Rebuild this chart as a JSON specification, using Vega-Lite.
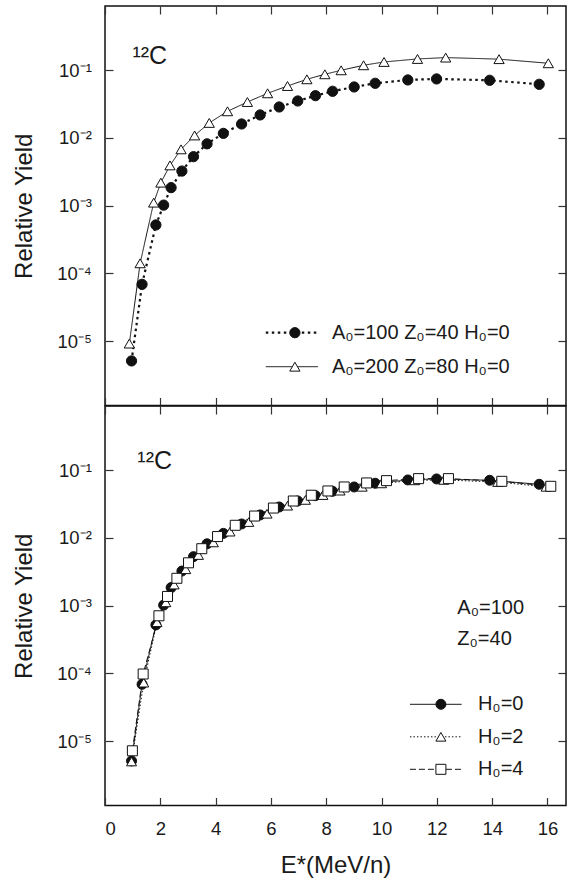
{
  "$schema": "https://vega.github.io/schema/vega-lite/v6.json",
  "padding": {"left": 12, "top": 4, "right": 0, "bottom": 0},
  "spacing": 0,
  "bounds": "flush",
  "resolve": {
    "scale": {"shape": "independent", "fill": "independent", "stroke": "independent", "strokeDash": "independent", "strokeWidth": "independent"},
    "legend": {"shape": "independent", "fill": "independent", "stroke": "independent", "strokeDash": "independent", "strokeWidth": "independent"}
  },
  "config": {
    "font": "Liberation Sans",
    "view": {"stroke": "#111", "strokeWidth": 1.5},
    "axis": {"domain": false, "grid": false, "tickColor": "#333", "tickSize": -8, "tickWidth": 1.2, "labelFont": "Liberation Sans", "labelFontSize": 18.5, "labelColor": "#1a1a1a", "titleFont": "Liberation Sans", "titleFontSize": 24, "titleFontWeight": "normal", "titleColor": "#1a1a1a"},
    "legend": {"labelFont": "Liberation Sans", "labelColor": "#1a1a1a", "padding": 0, "labelLimit": 0}
  },
  "datasets": {
    "top": [
      {"series": "A₀=100 Z₀=40 H₀=0", "E": 0.96, "Y": 5.1e-6},
      {"series": "A₀=100 Z₀=40 H₀=0", "E": 1.34, "Y": 6.9e-5},
      {"series": "A₀=100 Z₀=40 H₀=0", "E": 1.84, "Y": 5.2e-4},
      {"series": "A₀=100 Z₀=40 H₀=0", "E": 2.12, "Y": 1.02e-3},
      {"series": "A₀=100 Z₀=40 H₀=0", "E": 2.39, "Y": 1.85e-3},
      {"series": "A₀=100 Z₀=40 H₀=0", "E": 2.78, "Y": 3.25e-3},
      {"series": "A₀=100 Z₀=40 H₀=0", "E": 3.20, "Y": 5.3e-3},
      {"series": "A₀=100 Z₀=40 H₀=0", "E": 3.69, "Y": 8.2e-3},
      {"series": "A₀=100 Z₀=40 H₀=0", "E": 4.28, "Y": 0.0117},
      {"series": "A₀=100 Z₀=40 H₀=0", "E": 4.94, "Y": 0.0161},
      {"series": "A₀=100 Z₀=40 H₀=0", "E": 5.61, "Y": 0.0219},
      {"series": "A₀=100 Z₀=40 H₀=0", "E": 6.30, "Y": 0.0287},
      {"series": "A₀=100 Z₀=40 H₀=0", "E": 6.97, "Y": 0.0352},
      {"series": "A₀=100 Z₀=40 H₀=0", "E": 7.61, "Y": 0.0422},
      {"series": "A₀=100 Z₀=40 H₀=0", "E": 8.23, "Y": 0.049},
      {"series": "A₀=100 Z₀=40 H₀=0", "E": 9.01, "Y": 0.0567},
      {"series": "A₀=100 Z₀=40 H₀=0", "E": 9.77, "Y": 0.0643},
      {"series": "A₀=100 Z₀=40 H₀=0", "E": 10.95, "Y": 0.072},
      {"series": "A₀=100 Z₀=40 H₀=0", "E": 11.99, "Y": 0.0745},
      {"series": "A₀=100 Z₀=40 H₀=0", "E": 13.91, "Y": 0.0712},
      {"series": "A₀=100 Z₀=40 H₀=0", "E": 15.70, "Y": 0.0621},
      {"series": "A₀=200 Z₀=80  H₀=0", "E": 0.88, "Y": 9.2e-6},
      {"series": "A₀=200 Z₀=80  H₀=0", "E": 1.27, "Y": 1.41e-4},
      {"series": "A₀=200 Z₀=80  H₀=0", "E": 1.76, "Y": 1.11e-3},
      {"series": "A₀=200 Z₀=80  H₀=0", "E": 2.02, "Y": 2.19e-3},
      {"series": "A₀=200 Z₀=80  H₀=0", "E": 2.35, "Y": 3.94e-3},
      {"series": "A₀=200 Z₀=80  H₀=0", "E": 2.75, "Y": 6.8e-3},
      {"series": "A₀=200 Z₀=80  H₀=0", "E": 3.24, "Y": 0.0109},
      {"series": "A₀=200 Z₀=80  H₀=0", "E": 3.77, "Y": 0.0167},
      {"series": "A₀=200 Z₀=80  H₀=0", "E": 4.43, "Y": 0.0248},
      {"series": "A₀=200 Z₀=80  H₀=0", "E": 5.15, "Y": 0.034},
      {"series": "A₀=200 Z₀=80  H₀=0", "E": 5.88, "Y": 0.0457},
      {"series": "A₀=200 Z₀=80  H₀=0", "E": 6.60, "Y": 0.0586},
      {"series": "A₀=200 Z₀=80  H₀=0", "E": 7.30, "Y": 0.0736},
      {"series": "A₀=200 Z₀=80  H₀=0", "E": 7.95, "Y": 0.0873},
      {"series": "A₀=200 Z₀=80  H₀=0", "E": 8.54, "Y": 0.100},
      {"series": "A₀=200 Z₀=80  H₀=0", "E": 9.35, "Y": 0.1186},
      {"series": "A₀=200 Z₀=80  H₀=0", "E": 10.09, "Y": 0.1328},
      {"series": "A₀=200 Z₀=80  H₀=0", "E": 11.30, "Y": 0.147},
      {"series": "A₀=200 Z₀=80  H₀=0", "E": 12.32, "Y": 0.154},
      {"series": "A₀=200 Z₀=80  H₀=0", "E": 14.25, "Y": 0.146},
      {"series": "A₀=200 Z₀=80  H₀=0", "E": 16.03, "Y": 0.127}
    ],
    "bottom": [
      {"series": "H₀=0", "E": 0.96, "Y": 5.1e-6},
      {"series": "H₀=0", "E": 1.34, "Y": 6.9e-5},
      {"series": "H₀=0", "E": 1.84, "Y": 5.2e-4},
      {"series": "H₀=0", "E": 2.12, "Y": 1.02e-3},
      {"series": "H₀=0", "E": 2.39, "Y": 1.85e-3},
      {"series": "H₀=0", "E": 2.78, "Y": 3.25e-3},
      {"series": "H₀=0", "E": 3.20, "Y": 5.3e-3},
      {"series": "H₀=0", "E": 3.69, "Y": 8.2e-3},
      {"series": "H₀=0", "E": 4.28, "Y": 0.0117},
      {"series": "H₀=0", "E": 4.94, "Y": 0.0161},
      {"series": "H₀=0", "E": 5.61, "Y": 0.0219},
      {"series": "H₀=0", "E": 6.30, "Y": 0.0287},
      {"series": "H₀=0", "E": 6.97, "Y": 0.0352},
      {"series": "H₀=0", "E": 7.61, "Y": 0.0422},
      {"series": "H₀=0", "E": 8.23, "Y": 0.049},
      {"series": "H₀=0", "E": 9.01, "Y": 0.0567},
      {"series": "H₀=0", "E": 9.77, "Y": 0.0643},
      {"series": "H₀=0", "E": 10.95, "Y": 0.072},
      {"series": "H₀=0", "E": 11.99, "Y": 0.0745},
      {"series": "H₀=0", "E": 13.91, "Y": 0.0712},
      {"series": "H₀=0", "E": 15.70, "Y": 0.0621},
      {"series": "H₀=2", "E": 0.96, "Y": 5.0e-6},
      {"series": "H₀=2", "E": 1.40, "Y": 7.3e-5},
      {"series": "H₀=2", "E": 1.88, "Y": 5.7e-4},
      {"series": "H₀=2", "E": 2.20, "Y": 1.12e-3},
      {"series": "H₀=2", "E": 2.50, "Y": 2.05e-3},
      {"series": "H₀=2", "E": 2.92, "Y": 3.45e-3},
      {"series": "H₀=2", "E": 3.38, "Y": 5.6e-3},
      {"series": "H₀=2", "E": 3.92, "Y": 8.6e-3},
      {"series": "H₀=2", "E": 4.52, "Y": 0.0124},
      {"series": "H₀=2", "E": 5.20, "Y": 0.0172},
      {"series": "H₀=2", "E": 5.86, "Y": 0.0228},
      {"series": "H₀=2", "E": 6.60, "Y": 0.0300},
      {"series": "H₀=2", "E": 7.25, "Y": 0.0365},
      {"series": "H₀=2", "E": 7.88, "Y": 0.0430},
      {"series": "H₀=2", "E": 8.50, "Y": 0.050},
      {"series": "H₀=2", "E": 9.30, "Y": 0.057},
      {"series": "H₀=2", "E": 10.00, "Y": 0.064},
      {"series": "H₀=2", "E": 11.20, "Y": 0.071},
      {"series": "H₀=2", "E": 12.25, "Y": 0.072},
      {"series": "H₀=2", "E": 14.20, "Y": 0.067},
      {"series": "H₀=2", "E": 15.95, "Y": 0.057},
      {"series": "H₀=4", "E": 0.99, "Y": 7.2e-6},
      {"series": "H₀=4", "E": 1.38, "Y": 9.8e-5},
      {"series": "H₀=4", "E": 1.95, "Y": 7.1e-4},
      {"series": "H₀=4", "E": 2.26, "Y": 1.37e-3},
      {"series": "H₀=4", "E": 2.60, "Y": 2.54e-3},
      {"series": "H₀=4", "E": 3.02, "Y": 4.3e-3},
      {"series": "H₀=4", "E": 3.50, "Y": 6.95e-3},
      {"series": "H₀=4", "E": 4.07, "Y": 0.0105},
      {"series": "H₀=4", "E": 4.71, "Y": 0.0154},
      {"series": "H₀=4", "E": 5.41, "Y": 0.0211},
      {"series": "H₀=4", "E": 6.09, "Y": 0.0277},
      {"series": "H₀=4", "E": 6.81, "Y": 0.0352},
      {"series": "H₀=4", "E": 7.46, "Y": 0.0428},
      {"series": "H₀=4", "E": 8.06, "Y": 0.0495},
      {"series": "H₀=4", "E": 8.65, "Y": 0.0567},
      {"series": "H₀=4", "E": 9.46, "Y": 0.065},
      {"series": "H₀=4", "E": 10.18, "Y": 0.0703},
      {"series": "H₀=4", "E": 11.34, "Y": 0.0753},
      {"series": "H₀=4", "E": 12.42, "Y": 0.0753},
      {"series": "H₀=4", "E": 14.35, "Y": 0.0687},
      {"series": "H₀=4", "E": 16.12, "Y": 0.058}
    ]
  },
  "vconcat": [
    {
      "width": 461,
      "height": 399.5,
      "layer": [
        {
          "data": {"name": "top"},
          "mark": {"type": "line", "color": "#111"},
          "encoding": {
            "x": {"field": "E", "type": "quantitative", "scale": {"domain": [0, 16.67], "nice": false, "zero": false},
                  "axis": {"orient": "bottom", "values": [0, 2, 4, 6, 8, 10, 12, 14, 16], "labels": false, "title": null, "minExtent": 0, "maxExtent": 0}},
            "y": {"field": "Y", "type": "quantitative", "scale": {"type": "log", "domain": [1.12e-6, 0.89], "nice": false},
                  "axis": {"orient": "left", "values": [0.1, 0.01, 0.001, 0.0001, 0.00001], "labelPadding": 21.7, "title": "Relative Yield", "titlePadding": 20,
                           "labelExpr": "'10' + ['⁰','⁻¹','⁻²','⁻³','⁻⁴','⁻⁵','⁻⁶'][round(-log(datum.value)/LN10)]"}},
            "strokeDash": {"field": "series", "type": "nominal",
                           "scale": {"domain": ["A₀=100 Z₀=40 H₀=0", "A₀=200 Z₀=80  H₀=0"], "range": [[2.5, 3.5], [1, 0]]},
                           "legend": {"orient": "none", "legendX": 159.3, "legendY": 316.7, "title": null, "labelExpr": "''",
                                      "symbolType": "stroke", "symbolSize": 2704, "symbolStrokeColor": "#111", "clipHeight": 20, "rowPadding": 14}},
            "strokeWidth": {"field": "series", "type": "ordinal",
                            "scale": {"domain": ["A₀=100 Z₀=40 H₀=0", "A₀=200 Z₀=80  H₀=0"], "range": [2.2, 1]},
                            "legend": {"orient": "none", "legendX": 159.3, "legendY": 316.7, "title": null, "labelExpr": "''",
                                       "symbolType": "stroke", "symbolSize": 2704, "symbolStrokeColor": "#111", "clipHeight": 20, "rowPadding": 14}}
          }
        },
        {
          "data": {"name": "top"},
          "mark": {"type": "point", "filled": true, "strokeWidth": 1, "size": 105, "opacity": 1},
          "encoding": {
            "x": {"field": "E", "type": "quantitative", "scale": {"domain": [0, 16.67], "nice": false, "zero": false},
                  "axis": {"orient": "top", "values": [0, 2, 4, 6, 8, 10, 12, 14, 16], "labels": false, "title": null, "minExtent": 0, "maxExtent": 0}},
            "y": {"field": "Y", "type": "quantitative", "scale": {"type": "log", "domain": [1.12e-6, 0.89], "nice": false},
                  "axis": {"orient": "right", "values": [0.1, 0.01, 0.001, 0.0001, 0.00001], "labels": false, "title": null, "minExtent": 0, "maxExtent": 0}},
            "shape": {"field": "series", "type": "nominal", "scale": {"range": ["circle", "triangle-up"]},
                      "legend": {"orient": "none", "legendX": 179.9, "legendY": 316.7, "title": null, "labelFontSize": 20, "labelOffset": 27,
                                 "symbolSize": 105, "symbolStrokeWidth": 1, "clipHeight": 20, "rowPadding": 14}},
            "fill": {"field": "series", "type": "nominal", "scale": {"range": ["#111", "white"]},
                     "legend": {"orient": "none", "legendX": 179.9, "legendY": 316.7, "title": null, "labelFontSize": 20, "labelOffset": 27,
                                "symbolSize": 105, "symbolStrokeWidth": 1, "clipHeight": 20, "rowPadding": 14}},
            "stroke": {"field": "series", "type": "nominal", "scale": {"range": ["#111", "#111"]},
                       "legend": {"orient": "none", "legendX": 179.9, "legendY": 316.7, "title": null, "labelFontSize": 20, "labelOffset": 27,
                                  "symbolSize": 105, "symbolStrokeWidth": 1, "clipHeight": 20, "rowPadding": 14}}
          }
        },
        {
          "data": {"values": [{}]},
          "mark": {"type": "text", "text": "¹²C", "fontSize": 25, "align": "left", "baseline": "alphabetic", "color": "#1a1a1a"},
          "encoding": {"x": {"datum": 0.99, "axis": null}, "y": {"datum": 0.124, "axis": null}}
        }
      ]
    },
    {
      "width": 461,
      "height": 399.5,
      "layer": [
        {
          "data": {"name": "bottom"},
          "mark": {"type": "line", "color": "#111", "strokeWidth": 1},
          "encoding": {
            "x": {"field": "E", "type": "quantitative", "scale": {"domain": [0, 16.67], "nice": false, "zero": false},
                  "axis": {"orient": "bottom", "values": [0, 2, 4, 6, 8, 10, 12, 14, 16], "labelPadding": 22, "title": "E*(MeV/n)", "titlePadding": 15.5}},
            "y": {"field": "Y", "type": "quantitative", "scale": {"type": "log", "domain": [1.12e-6, 0.89], "nice": false},
                  "axis": {"orient": "left", "values": [0.1, 0.01, 0.001, 0.0001, 0.00001], "labelPadding": 21.7, "title": "Relative Yield", "titlePadding": 20,
                           "labelExpr": "'10' + ['⁰','⁻¹','⁻²','⁻³','⁻⁴','⁻⁵','⁻⁶'][round(-log(datum.value)/LN10)]"}},
            "strokeDash": {"field": "series", "type": "nominal",
                           "scale": {"domain": ["H₀=0", "H₀=2", "H₀=4"], "range": [[1, 0], [1.5, 2], [6, 3]]},
                           "legend": {"orient": "none", "legendX": 304.3, "legendY": 288.3, "title": null, "labelExpr": "''",
                                      "symbolType": "stroke", "symbolSize": 2673, "symbolStrokeColor": "#111", "symbolStrokeWidth": 1, "clipHeight": 20, "rowPadding": 12.5}}
          }
        },
        {
          "data": {"name": "bottom"},
          "mark": {"type": "point", "filled": true, "strokeWidth": 1, "size": 100, "opacity": 1},
          "encoding": {
            "x": {"field": "E", "type": "quantitative", "scale": {"domain": [0, 16.67], "nice": false, "zero": false},
                  "axis": {"orient": "top", "values": [0, 2, 4, 6, 8, 10, 12, 14, 16], "labels": false, "title": null, "minExtent": 0, "maxExtent": 0}},
            "y": {"field": "Y", "type": "quantitative", "scale": {"type": "log", "domain": [1.12e-6, 0.89], "nice": false},
                  "axis": {"orient": "right", "values": [0.1, 0.01, 0.001, 0.0001, 0.00001], "labels": false, "title": null, "minExtent": 0, "maxExtent": 0}},
            "shape": {"field": "series", "type": "nominal", "scale": {"range": ["circle", "triangle-up", "square"]},
                      "legend": {"orient": "none", "legendX": 325.9, "legendY": 288.3, "title": null, "labelFontSize": 20, "labelOffset": 27,
                                 "symbolSize": 100, "symbolStrokeWidth": 1, "clipHeight": 20, "rowPadding": 12.5}},
            "fill": {"field": "series", "type": "nominal", "scale": {"range": ["#111", "white", "white"]},
                     "legend": {"orient": "none", "legendX": 325.9, "legendY": 288.3, "title": null, "labelFontSize": 20, "labelOffset": 27,
                                "symbolSize": 100, "symbolStrokeWidth": 1, "clipHeight": 20, "rowPadding": 12.5}},
            "stroke": {"field": "series", "type": "nominal", "scale": {"range": ["#111", "#111", "#111"]},
                       "legend": {"orient": "none", "legendX": 325.9, "legendY": 288.3, "title": null, "labelFontSize": 20, "labelOffset": 27,
                                  "symbolSize": 100, "symbolStrokeWidth": 1, "clipHeight": 20, "rowPadding": 12.5}}
          }
        },
        {
          "data": {"values": [{}]},
          "mark": {"type": "text", "text": "¹²C", "fontSize": 25, "align": "left", "baseline": "alphabetic", "color": "#1a1a1a"},
          "encoding": {"x": {"datum": 1.17, "axis": null}, "y": {"datum": 0.103, "axis": null}}
        },
        {
          "data": {"values": [{}]},
          "mark": {"type": "text", "text": "A₀=100", "fontSize": 20, "align": "left", "baseline": "alphabetic", "color": "#1a1a1a"},
          "encoding": {"x": {"datum": 12.74, "axis": null}, "y": {"datum": 7.46e-4, "axis": null}}
        },
        {
          "data": {"values": [{}]},
          "mark": {"type": "text", "text": "Z₀=40", "fontSize": 20, "align": "left", "baseline": "alphabetic", "color": "#1a1a1a"},
          "encoding": {"x": {"datum": 12.74, "axis": null}, "y": {"datum": 2.6e-4, "axis": null}}
        }
      ]
    }
  ]
}
